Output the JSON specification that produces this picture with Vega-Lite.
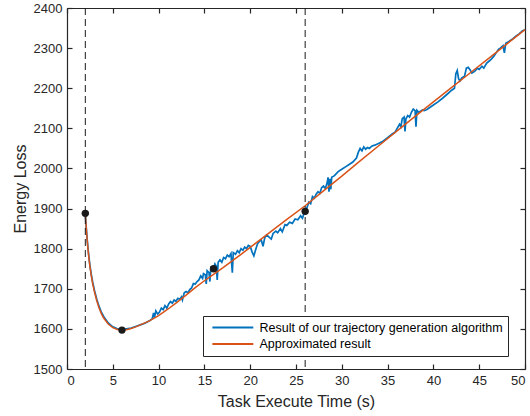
{
  "$schema": "https://vega.github.io/schema/vega-lite/v6.json",
  "width": 458,
  "height": 361,
  "autosize": {"type": "none"},
  "padding": {"left": 67, "top": 8, "right": 5, "bottom": 47},
  "config": {
    "view": {"stroke": null},
    "font": "Liberation Sans",
    "axis": {
      "grid": false,
      "domainColor": "#262626",
      "tickColor": "#262626",
      "labelColor": "#262626",
      "titleColor": "#262626",
      "labelFontSize": 13,
      "titleFontSize": 16,
      "titleFontWeight": "normal",
      "tickSize": -5,
      "labelPadding": 10,
      "domainWidth": 1.2,
      "tickWidth": 1.2,
      "format": "d"
    },
    "legend": {
      "orient": "none",
      "legendX": 136,
      "legendY": 308,
      "strokeColor": "#262626",
      "fillColor": "white",
      "padding": 5,
      "symbolType": "M-0.4,0H7.4",
      "symbolSize": 110,
      "symbolStrokeWidth": 2,
      "labelFontSize": 12.5,
      "labelColor": "#000000",
      "labelOffset": 38.5,
      "labelLimit": 0,
      "rowPadding": 3.5
    }
  },
  "datasets": {
    "blue": [
      {"t":2,"e":1886},{"t":2.1,"e":1853},{"t":2.2,"e":1824},{"t":2.3,"e":1799},{"t":2.4,"e":1778},{"t":2.5,"e":1759},{"t":2.65,"e":1736},{"t":2.8,"e":1717},{"t":3,"e":1696},{"t":3.25,"e":1674},{"t":3.5,"e":1656},{"t":3.75,"e":1642},{"t":4,"e":1631},{"t":4.5,"e":1615},{"t":5,"e":1605},{"t":5.5,"e":1600},{"t":6,"e":1598},{"t":6.5,"e":1600},{"t":7,"e":1602},{"t":7.5,"e":1606},{"t":8,"e":1610},{"t":8.5,"e":1614},{"t":9,"e":1620},{"t":9.3,"e":1625},{"t":9.45,"e":1640},{"t":9.55,"e":1628},{"t":9.7,"e":1645},{"t":9.9,"e":1637},
      {"t":10.1,"e":1642},{"t":10.3,"e":1652},{"t":10.5,"e":1648},{"t":10.7,"e":1658},{"t":10.9,"e":1652},{"t":11.1,"e":1662},{"t":11.3,"e":1668},{"t":11.5,"e":1664},{"t":11.7,"e":1672},{"t":11.9,"e":1669},{"t":12.1,"e":1676},{"t":12.3,"e":1674},{"t":12.5,"e":1680},{"t":12.6,"e":1672},{"t":12.8,"e":1690},{"t":13,"e":1693},{"t":13.2,"e":1690},{"t":13.4,"e":1698},{"t":13.6,"e":1702},{"t":13.8,"e":1713},{"t":14,"e":1712},{"t":14.2,"e":1718},{"t":14.4,"e":1722},{"t":14.6,"e":1732},{"t":14.8,"e":1726},{"t":14.9,"e":1738},{"t":15.1,"e":1735},{"t":15.2,"e":1712},{"t":15.3,"e":1745},{"t":15.5,"e":1740},{"t":15.6,"e":1718},{"t":15.7,"e":1752},{"t":15.85,"e":1748},{"t":16,"e":1750},{"t":16.15,"e":1762},{"t":16.3,"e":1756},{"t":16.4,"e":1722},{"t":16.5,"e":1766},{"t":16.7,"e":1772},{"t":16.9,"e":1766},{"t":17.1,"e":1778},{"t":17.3,"e":1775},{"t":17.5,"e":1784},{"t":17.7,"e":1780},{"t":17.9,"e":1788},{"t":18.05,"e":1740},{"t":18.15,"e":1790},{"t":18.4,"e":1786},{"t":18.6,"e":1795},{"t":18.8,"e":1790},{"t":19,"e":1800},{"t":19.2,"e":1796},{"t":19.4,"e":1804},{"t":19.6,"e":1800},{"t":19.8,"e":1808},
      {"t":20,"e":1806},{"t":20.2,"e":1792},{"t":20.4,"e":1782},{"t":20.6,"e":1798},{"t":20.8,"e":1812},{"t":21,"e":1818},{"t":21.2,"e":1822},{"t":21.4,"e":1806},{"t":21.6,"e":1828},{"t":21.8,"e":1834},{"t":22,"e":1830},{"t":22.3,"e":1824},{"t":22.5,"e":1838},{"t":22.8,"e":1844},{"t":23,"e":1840},{"t":23.3,"e":1850},{"t":23.5,"e":1842},{"t":23.8,"e":1860},{"t":24,"e":1858},{"t":24.3,"e":1866},{"t":24.6,"e":1863},{"t":24.9,"e":1874},{"t":25.2,"e":1872},{"t":25.5,"e":1882},{"t":25.7,"e":1876},{"t":25.85,"e":1886},{"t":26,"e":1893},{"t":26.2,"e":1902},{"t":26.4,"e":1916},{"t":26.6,"e":1912},{"t":26.8,"e":1930},{"t":27,"e":1926},{"t":27.2,"e":1936},{"t":27.4,"e":1942},{"t":27.6,"e":1938},{"t":27.8,"e":1952},{"t":28,"e":1956},{"t":28.2,"e":1950},{"t":28.4,"e":1964},{"t":28.5,"e":1978},{"t":28.6,"e":1942},{"t":28.7,"e":1974},{"t":28.8,"e":1948},{"t":28.9,"e":1978},{"t":29.2,"e":1982},{"t":29.6,"e":1992},
      {"t":30,"e":1998},{"t":30.4,"e":2004},{"t":30.8,"e":2010},{"t":31.2,"e":2016},{"t":31.6,"e":2026},{"t":31.8,"e":2040},{"t":32,"e":2050},{"t":32.2,"e":2044},{"t":32.4,"e":2054},{"t":32.6,"e":2048},{"t":32.8,"e":2052},{"t":33,"e":2050},{"t":33.3,"e":2056},{"t":33.6,"e":2058},{"t":34,"e":2062},{"t":34.5,"e":2068},{"t":35,"e":2077},{"t":35.5,"e":2086},{"t":35.8,"e":2090},{"t":36,"e":2098},{"t":36.3,"e":2110},{"t":36.45,"e":2104},{"t":36.6,"e":2124},{"t":36.8,"e":2128},{"t":36.9,"e":2092},{"t":37,"e":2124},{"t":37.2,"e":2132},{"t":37.4,"e":2128},{"t":37.6,"e":2140},{"t":37.8,"e":2148},{"t":38,"e":2144},{"t":38.1,"e":2104},{"t":38.2,"e":2145},{"t":38.4,"e":2140},{"t":38.6,"e":2143},{"t":38.8,"e":2146},{"t":39,"e":2144},{"t":39.3,"e":2147},{"t":39.6,"e":2152},
      {"t":40,"e":2158},{"t":40.5,"e":2166},{"t":41,"e":2175},{"t":41.5,"e":2185},{"t":42,"e":2195},{"t":42.3,"e":2200},{"t":42.45,"e":2236},{"t":42.6,"e":2244},{"t":42.75,"e":2224},{"t":42.9,"e":2218},{"t":43.1,"e":2226},{"t":43.4,"e":2230},{"t":43.6,"e":2250},{"t":43.8,"e":2252},{"t":44,"e":2246},{"t":44.2,"e":2238},{"t":44.5,"e":2242},{"t":44.8,"e":2250},{"t":45,"e":2247},{"t":45.3,"e":2255},{"t":45.5,"e":2250},{"t":45.8,"e":2262},{"t":46,"e":2266},{"t":46.3,"e":2272},{"t":46.6,"e":2280},{"t":46.9,"e":2290},{"t":47.1,"e":2297},{"t":47.3,"e":2300},{"t":47.6,"e":2306},{"t":47.75,"e":2288},{"t":47.9,"e":2312},{"t":48.2,"e":2316},{"t":48.6,"e":2322},{"t":49,"e":2330},{"t":49.4,"e":2336},{"t":49.7,"e":2343},{"t":50,"e":2346}
    ],
    "orange": [
      {"t":2,"e":1888},{"t":2.1,"e":1852},{"t":2.2,"e":1822},{"t":2.3,"e":1797},{"t":2.4,"e":1775},{"t":2.5,"e":1756},{"t":2.65,"e":1733},{"t":2.8,"e":1713},{"t":3,"e":1692},{"t":3.25,"e":1670},{"t":3.5,"e":1652},{"t":3.75,"e":1638},{"t":4,"e":1627},{"t":4.5,"e":1612},{"t":5,"e":1603},{"t":5.5,"e":1598.5},{"t":6,"e":1597},{"t":6.5,"e":1598},{"t":7,"e":1601},{"t":7.5,"e":1605},{"t":8,"e":1610},{"t":9,"e":1620},{"t":10,"e":1633},{"t":11,"e":1649},{"t":12,"e":1666},{"t":13,"e":1684},{"t":14,"e":1703},{"t":15,"e":1720},{"t":16,"e":1736},{"t":17,"e":1752},{"t":18,"e":1769},{"t":19,"e":1786},{"t":20,"e":1803},{"t":22,"e":1838},{"t":24,"e":1873},{"t":26,"e":1907},{"t":28,"e":1944},{"t":30,"e":1981},{"t":32,"e":2019},{"t":34,"e":2056},{"t":36,"e":2093},{"t":38,"e":2130},{"t":40,"e":2166},{"t":42,"e":2202},{"t":44,"e":2238},{"t":46,"e":2274},{"t":48,"e":2310},{"t":50,"e":2346}
    ],
    "dots": [
      {"t":2,"e":1888},{"t":6,"e":1597},{"t":16,"e":1750},{"t":26,"e":1893}
    ],
    "vlines": [
      {"t":2},{"t":26}
    ]
  },
  "layer": [
    {
      "data": {"name": "blue"},
      "mark": {"type": "line", "strokeWidth": 1.7},
      "encoding": {
        "x": {"field": "t", "type": "quantitative", "scale": {"domain": [0, 50], "nice": false},
              "axis": {"orient": "bottom", "values": [0,5,10,15,20,25,30,35,40,45,50], "title": "Task Execute Time (s)", "titlePadding": 6}},
        "y": {"field": "e", "type": "quantitative", "scale": {"domain": [1500, 2400], "nice": false, "zero": false},
              "axis": {"orient": "left", "values": [1500,1600,1700,1800,1900,2000,2100,2200,2300,2400], "title": "Energy Loss", "titlePadding": 5}},
        "color": {"datum": "Result of our trajectory generation algorithm", "type": "nominal",
                  "scale": {"domain": ["Result of our trajectory generation algorithm", "Approximated result"], "range": ["#0072BD", "#D95319"]},
                  "legend": {"title": null}},
        "order": {"value": null}
      }
    },
    {
      "data": {"name": "orange"},
      "mark": {"type": "line", "strokeWidth": 1.5},
      "encoding": {
        "x": {"field": "t", "type": "quantitative", "axis": null},
        "y": {"field": "e", "type": "quantitative", "axis": null},
        "color": {"datum": "Approximated result", "type": "nominal"},
        "order": {"value": null}
      }
    },
    {
      "data": {"name": "vlines"},
      "mark": {"type": "rule", "color": "#1a1a1a", "strokeWidth": 1, "strokeDash": [7, 4]},
      "encoding": {
        "x": {"field": "t", "type": "quantitative", "axis": null}
      }
    },
    {
      "data": {"name": "dots"},
      "mark": {"type": "point", "filled": true, "color": "#1a1a1a", "size": 55, "opacity": 1},
      "encoding": {
        "x": {"field": "t", "type": "quantitative",
              "axis": {"orient": "top", "values": [0,5,10,15,20,25,30,35,40,45,50], "labels": false, "title": null}},
        "y": {"field": "e", "type": "quantitative",
              "axis": {"orient": "right", "values": [1500,1600,1700,1800,1900,2000,2100,2200,2300,2400], "labels": false, "title": null}}
      }
    }
  ],
  "resolve": {"axis": {"x": "independent", "y": "independent"}}
}
